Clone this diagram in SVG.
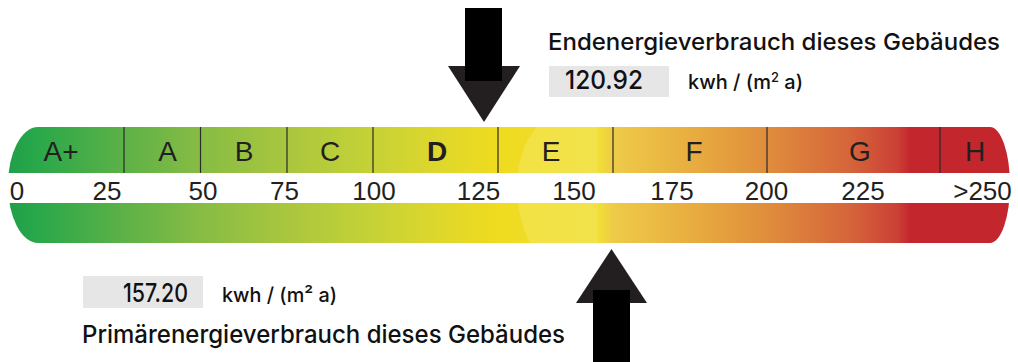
<svg xmlns="http://www.w3.org/2000/svg" width="1018" height="362" viewBox="0 0 1018 362">
<style>
.cls{font-family:"Liberation Sans",Arial,sans-serif;font-size:28px;fill:#231f20;text-anchor:middle}
.num{font-family:"Liberation Sans",Arial,sans-serif;font-size:26px;fill:#231f20;text-anchor:middle}
.div{stroke:#2b2b2b;stroke-width:1.2}
.hd{font-family:Inter,Lato,"Noto Sans",sans-serif;font-weight:500;fill:#111}
.box{fill:#e6e6e6}
.shaft{fill:#000}
.head{fill:#231f20}
</style>
<defs>
<linearGradient id="scale" gradientUnits="userSpaceOnUse" x1="8" y1="0" x2="1010" y2="0">
<stop offset="0" stop-color="#1f9f49"/>
<stop offset="0.032" stop-color="#2ba84a"/>
<stop offset="0.116" stop-color="#5db147"/>
<stop offset="0.19" stop-color="#86bc44"/>
<stop offset="0.278" stop-color="#a9c63e"/>
<stop offset="0.364" stop-color="#c6d236"/>
<stop offset="0.441" stop-color="#e2d82a"/>
<stop offset="0.489" stop-color="#efdb1f"/>
<stop offset="0.59" stop-color="#f1de36"/>
<stop offset="0.604" stop-color="#eecb48"/>
<stop offset="0.69" stop-color="#e7aa3f"/>
<stop offset="0.757" stop-color="#e08d3c"/>
<stop offset="0.84" stop-color="#d5653a"/>
<stop offset="0.888" stop-color="#cb4035"/>
<stop offset="0.9" stop-color="#c4262e"/>
<stop offset="1" stop-color="#c4262e"/>
</linearGradient>
</defs>
<g id="scale-bar">
<path d="M38 127 H990 A20 58 0 0 1 990 243 H38 A30 58 0 0 1 38 127 Z" fill="url(#scale)"/>
<path d="M537 127 H597 V243 H530 C515 215 508 160 537 127 Z" fill="#f4e65a" opacity="0.6"/>
<rect x="0" y="173" width="1018" height="30" fill="#fff"/>
<g id="dividers">
<line class="div" x1="124" y1="127" x2="124" y2="173"/>
<line class="div" x1="200.5" y1="127" x2="200.5" y2="173"/>
<line class="div" x1="287" y1="127" x2="287" y2="173"/>
<line class="div" x1="373" y1="127" x2="373" y2="173"/>
<line class="div" x1="498" y1="127" x2="498" y2="173"/>
<line class="div" x1="613" y1="127" x2="613" y2="173"/>
<line class="div" x1="767" y1="127" x2="767" y2="173"/>
<line class="div" x1="940" y1="127" x2="940" y2="173"/>
</g>
<g id="classes">
<text class="cls" x="61" y="161">A+</text>
<text class="cls" x="167.5" y="161">A</text>
<text class="cls" x="244" y="161">B</text>
<text class="cls" x="330" y="161">C</text>
<text class="cls" x="437" y="161" font-weight="bold">D</text>
<text class="cls" x="551" y="161">E</text>
<text class="cls" x="694" y="161">F</text>
<text class="cls" x="860" y="161">G</text>
<text class="cls" x="975" y="161">H</text>
</g>
<g id="values">
<text class="num" x="17" y="200">0</text>
<text class="num" x="107" y="200">25</text>
<text class="num" x="203" y="200">50</text>
<text class="num" x="284.5" y="200">75</text>
<text class="num" x="374" y="200">100</text>
<text class="num" x="478.5" y="200">125</text>
<text class="num" x="574" y="200">150</text>
<text class="num" x="672" y="200">175</text>
<text class="num" x="766.5" y="200">200</text>
<text class="num" x="863" y="200">225</text>
<text class="num" x="982.5" y="200">&gt;250</text>
</g>
</g>
<g id="end-energy">
<polygon class="head" points="448,66 520,66 484,122"/>
<rect class="shaft" x="465" y="8" width="37" height="73"/>
<text class="hd" x="548" y="50" font-size="23.5" textLength="452" lengthAdjust="spacingAndGlyphs">Endenergieverbrauch dieses Gebäudes</text>
<rect class="box" x="549" y="66" width="120" height="31"/>
<text class="hd" x="565" y="89" font-size="26" textLength="78" lengthAdjust="spacingAndGlyphs">120.92</text>
<text class="hd" x="688" y="89" font-size="20" textLength="115" lengthAdjust="spacingAndGlyphs">kwh / (m<tspan font-size="13" dy="-7">2</tspan><tspan dy="7"> a)</tspan></text>
</g>
<g id="primary-energy">
<polygon class="head" points="576,303 647,303 611.5,249"/>
<rect class="shaft" x="593" y="290" width="37" height="72"/>
<rect class="box" x="83" y="276" width="120" height="32"/>
<text class="hd" x="123" y="302" font-size="26" textLength="65" lengthAdjust="spacingAndGlyphs">157.20</text>
<text class="hd" x="222" y="302" font-size="20" textLength="115" lengthAdjust="spacingAndGlyphs">kwh / (m² a)</text>
<text class="hd" x="82" y="343" font-size="24.5" textLength="483" lengthAdjust="spacingAndGlyphs">Primärenergieverbrauch dieses Gebäudes</text>
</g>
</svg>
